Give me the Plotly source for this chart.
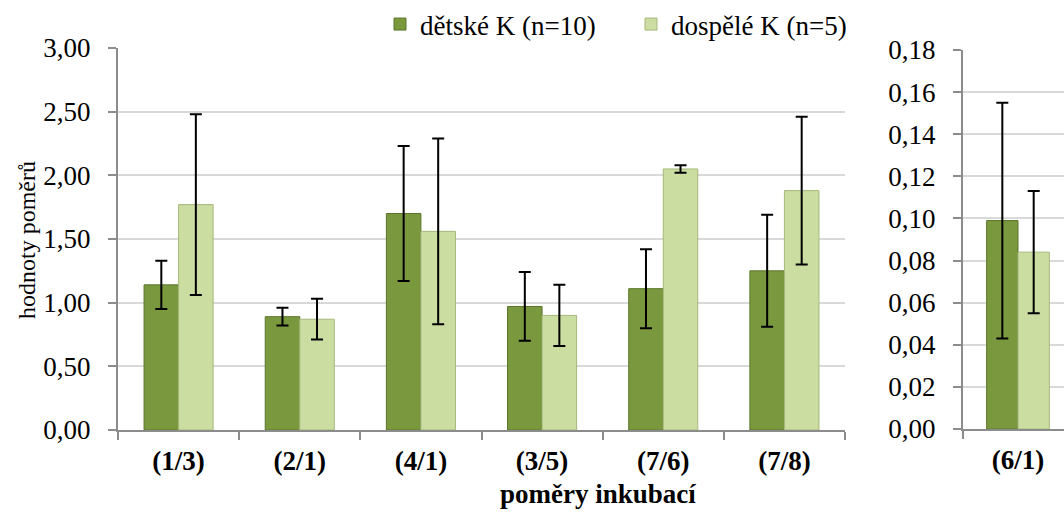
import plotly.graph_objects as go

categories = ["(1/3)", "(2/1)", "(4/1)", "(3/5)", "(7/6)", "(7/8)"]
child_vals = [1.14, 0.89, 1.70, 0.97, 1.11, 1.25]
child_err = [0.19, 0.07, 0.53, 0.27, 0.31, 0.44]
adult_vals = [1.77, 0.87, 1.56, 0.90, 2.05, 1.88]
adult_err = [0.71, 0.16, 0.73, 0.24, 0.03, 0.58]

categories2 = ["(6/1)"]
child_vals2 = [0.099]
child_err2 = [0.056]
adult_vals2 = [0.084]
adult_err2 = [0.029]

series_names = ["dětské K (n=10)", "dospělé K (n=5)"]
c_dark = "#7A983E"
c_light = "#CCDDA2"
FONT = "Liberation Serif"

W, H = 1064, 513

def px_x(p):
    return p / W

def px_y(p):
    return (H - p) / H

fig = go.Figure()

err_style = dict(type="data", visible=True, color="black", thickness=2, width=6)

fig.add_trace(go.Bar(x=categories, y=child_vals, name=series_names[0],
                     marker=dict(color=c_dark, line=dict(color="#5C752C", width=1)),
                     error_y=dict(array=child_err, **err_style),
                     xaxis="x", yaxis="y", legendgroup="a", offsetgroup="a"))
fig.add_trace(go.Bar(x=categories, y=adult_vals, name=series_names[1],
                     marker=dict(color=c_light, line=dict(color="#A5B87A", width=1)),
                     error_y=dict(array=adult_err, **err_style),
                     xaxis="x", yaxis="y", legendgroup="b", offsetgroup="b"))
fig.add_trace(go.Bar(x=categories2, y=child_vals2, name=series_names[0],
                     marker=dict(color=c_dark, line=dict(color="#5C752C", width=1)),
                     error_y=dict(array=child_err2, **err_style),
                     xaxis="x2", yaxis="y2", legendgroup="a", offsetgroup="a", showlegend=False))
fig.add_trace(go.Bar(x=categories2, y=adult_vals2, name=series_names[1],
                     marker=dict(color=c_light, line=dict(color="#A5B87A", width=1)),
                     error_y=dict(array=adult_err2, **err_style),
                     xaxis="x2", yaxis="y2", legendgroup="b", offsetgroup="b", showlegend=False))

axis_col = "#8C8C8C"
grid_col = "#D9D9D9"
tick_font = dict(family=FONT, size=27, color="black")

common_y = dict(showline=True, linecolor=axis_col, linewidth=2, ticks="outside",
                ticklen=8, tickcolor=axis_col, tickwidth=2, showgrid=True,
                gridcolor=grid_col, gridwidth=2, zeroline=False, tickfont=tick_font,
                tickformat=".2f", automargin=False, ticklabelstandoff=12)
common_x = dict(showline=True, linecolor=axis_col, linewidth=2, ticks="outside",
                ticklen=8, tickcolor=axis_col, tickwidth=2, tickson="boundaries",
                showgrid=False, zeroline=False, automargin=False,
                tickfont=dict(family=FONT, size=27, color="black", weight="bold"),
                ticklabelstandoff=6, type="category")

fig.update_layout(
    width=W, height=H,
    margin=dict(l=0, r=0, t=0, b=0),
    paper_bgcolor="white", plot_bgcolor="white",
    separators=", ",
    barmode="group", bargap=0.43, bargroupgap=0,
    font=dict(family=FONT, color="black"),
    xaxis=dict(domain=[px_x(118), px_x(845)], anchor="y", range=[-0.5, 5.5], **common_x),
    yaxis=dict(domain=[px_y(430), px_y(48)], anchor="x", range=[0, 3], dtick=0.5, **common_y),
    xaxis2=dict(domain=[px_x(963), 1.0], anchor="y2", range=[-0.5, 0.418], **common_x),
    yaxis2=dict(domain=[px_y(429), px_y(50)], anchor="x2", range=[0, 0.18], dtick=0.02, **common_y),
    legend=dict(orientation="h", x=px_x(380), xanchor="left", y=1.0, yanchor="top",
                font=dict(family=FONT, size=27, color="black"), bgcolor="rgba(0,0,0,0)",
                traceorder="normal", itemclick=False, entrywidth=206, entrywidthmode="pixels"),
    showlegend=True,
    annotations=[
        dict(text="hodnoty poměrů", x=px_x(27), y=px_y(240), xref="paper", yref="paper",
             textangle=-90, showarrow=False, xanchor="center", yanchor="middle",
             font=dict(family=FONT, size=24, color="black")),
        dict(text="<b>poměry inkubací</b>", x=px_x(598), y=px_y(494), xref="paper", yref="paper",
             showarrow=False, xanchor="center", yanchor="middle",
             font=dict(family=FONT, size=27, color="black")),
    ],
)

fig.write_html("out.html")
